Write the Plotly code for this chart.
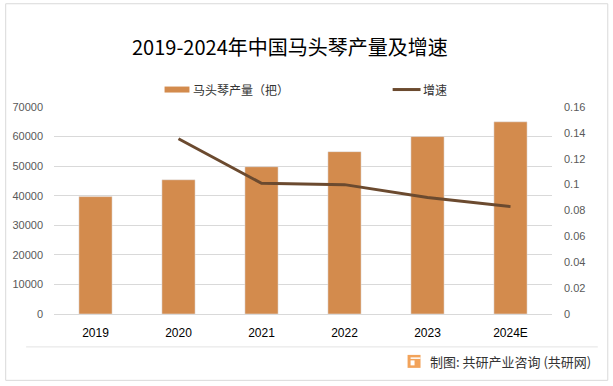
import plotly.graph_objects as go

years = ["2019", "2020", "2021", "2022", "2023", "2024E"]
production = [39700, 45400, 49800, 54900, 60000, 65000]
growth_years = ["2020", "2021", "2022", "2023", "2024E"]
growth = [0.1355, 0.101, 0.100, 0.090, 0.083]
left_ticks = [0, 10000, 20000, 30000, 40000, 50000, 60000, 70000]
right_tickvals = [0, 0.02, 0.04, 0.06, 0.08, 0.10, 0.12, 0.14, 0.16]
right_ticktext = ["0", "0.02", "0.04", "0.06", "0.08", "0.1", "0.12", "0.14", "0.16"]

title_text = "2019-2024年中国马头琴产量及增速"
bar_name = "马头琴产量（把）"
line_name = "增速"
source_text = "制图: 共研产业咨询 (共研网)"

W, H = 613, 386
L, R, T, B = 52, 552, 107, 314.5
BAR_COLOR = "#D38B4D"
LINE_COLOR = "#6B4A2F"
GRID = "#D9D9D9"
CJK = "Noto Sans CJK SC"
NUM = "Liberation Sans, Noto Sans CJK SC"


def px(x):
    return (x - L) / (R - L)


def py(y):
    return (B - y) / (B - T)


fig = go.Figure()
fig.add_trace(go.Bar(x=years, y=production, name=bar_name, marker_color=BAR_COLOR,
                     width=0.4, showlegend=False))
fig.add_trace(go.Scatter(x=growth_years, y=growth, name=line_name, yaxis="y2",
                         mode="lines", line=dict(color=LINE_COLOR, width=3),
                         showlegend=False))

shapes = [
    # outer frame
    dict(type="rect", xref="paper", yref="paper", x0=px(3.5), x1=px(608), y0=py(3.5), y1=py(381),
         line=dict(color="#D9D9D9", width=1), layer="below"),
    # separator
    dict(type="line", xref="paper", yref="paper", x0=px(24), x1=px(598), y0=py(347.5), y1=py(347.5),
         line=dict(color="#E3E3E3", width=1)),
    # legend swatches
    dict(type="rect", xref="paper", yref="paper", x0=px(163), x1=px(188), y0=py(92.5), y1=py(86.5),
         fillcolor=BAR_COLOR, line=dict(width=0)),
    dict(type="line", xref="paper", yref="paper", x0=px(392), x1=px(420), y0=py(89.5), y1=py(89.5),
         line=dict(color=LINE_COLOR, width=3)),
    # logo
    dict(type="rect", xref="paper", yref="paper", x0=px(407), x1=px(420), y0=py(368.5), y1=py(355.5),
         fillcolor="#F2A35A", line=dict(width=0)),
    dict(type="rect", xref="paper", yref="paper", x0=px(410), x1=px(420), y0=py(359.5), y1=py(358),
         fillcolor="white", line=dict(width=0)),
    dict(type="rect", xref="paper", yref="paper", x0=px(410), x1=px(414), y0=py(366), y1=py(361),
         fillcolor="white", line=dict(width=0)),
]

annotations = [
    dict(text=title_text, xref="paper", yref="paper", x=px(288.5), y=py(46.5),
         xanchor="center", yanchor="middle", showarrow=False,
         font=dict(family=CJK, size=20, color="#000000")),
    dict(text=bar_name, xref="paper", yref="paper", x=px(190), y=py(89.5),
         xanchor="left", yanchor="middle", showarrow=False,
         font=dict(family=CJK, size=12, color="#333333")),
    dict(text=line_name, xref="paper", yref="paper", x=px(420), y=py(89.5),
         xanchor="left", yanchor="middle", showarrow=False,
         font=dict(family=CJK, size=12, color="#333333")),
    dict(text=source_text, xref="paper", yref="paper", x=px(428), y=py(362),
         xanchor="left", yanchor="middle", showarrow=False,
         font=dict(family=CJK, size=13, color="#333333")),
]

fig.update_layout(
    width=W, height=H,
    margin=dict(l=L, r=W - R, t=T, b=H - B, pad=0),
    paper_bgcolor="white", plot_bgcolor="white",
    showlegend=False,
    bargap=0.6,
    xaxis=dict(type="category", categoryorder="array", categoryarray=years,
               showgrid=False, showline=False, ticks="", zeroline=False,
               tickfont=dict(family=NUM, size=12, color="#000000"), ticklabelstandoff=10),
    yaxis=dict(range=[0, 70000], tickvals=left_ticks, tickformat="d",
               showgrid=True, gridcolor=GRID, gridwidth=1, zeroline=True, zerolinecolor=GRID,
               zerolinewidth=1, showline=False, ticks="",
               tickfont=dict(family=NUM, size=11, color="#595959"), ticklabelstandoff=10),
    yaxis2=dict(range=[0, 0.16], overlaying="y", side="right",
                tickvals=right_tickvals, ticktext=right_ticktext,
                showgrid=False, zeroline=False, showline=False, ticks="",
                tickfont=dict(family=NUM, size=11, color="#595959"), ticklabelstandoff=11),
    shapes=shapes,
    annotations=annotations,
)

fig.write_html("out.html",
               config={"displayModeBar": False},
               post_script="document.body.style.margin='0';document.body.style.padding='0';")
